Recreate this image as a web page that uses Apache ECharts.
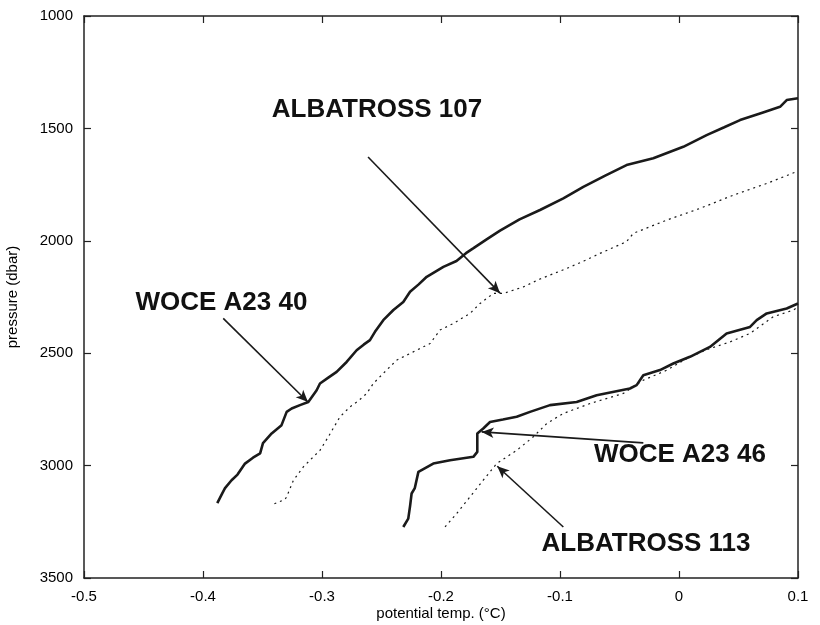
<!DOCTYPE html>
<html>
<head>
<meta charset="utf-8">
<script src="https://cdn.jsdelivr.net/npm/echarts@6/dist/echarts.min.js"></script>
<style>
html,body{margin:0;padding:0;background:#fff;}
#chart{width:820px;height:625px;}
</style>
</head>
<body>
<div id="chart"></div>
<script>
// Axis settings
var xMin = -0.5, xMax = 0.1, xStep = 0.1;
var yMin = 1000, yMax = 3500, yStep = 500;
var xAxisName = 'potential temp. (°C)';
var yAxisName = 'pressure (dbar)';

// Series: [potential temperature, pressure]
var woceA23_40 = [
  [-0.388,3167],[-0.3835,3120],[-0.3815,3100],[-0.376,3065],[-0.371,3040],[-0.3647,2991],[-0.358,2965],[-0.352,2946],
  [-0.3496,2900],[-0.3423,2857],[-0.334,2820],[-0.3297,2761],[-0.3255,2746],[-0.318,2730],[-0.3115,2717],
  [-0.3045,2665],[-0.3017,2635],[-0.295,2610],[-0.2877,2583],[-0.2793,2539],[-0.2709,2487],[-0.2650,2462],
  [-0.2597,2442],[-0.2555,2405],[-0.2485,2353],[-0.2400,2308],[-0.2317,2272],[-0.2260,2227],[-0.2190,2195],
  [-0.2120,2160],[-0.1980,2116],[-0.1870,2090],[-0.1790,2055],[-0.1730,2034],[-0.1620,1995],[-0.1504,1955],
  [-0.1340,1905],[-0.1168,1863],[-0.0972,1811],[-0.0804,1760],[-0.0620,1710],[-0.0441,1663],[-0.0216,1633],
  [0.0036,1582],[0.0232,1530],[0.0380,1495],[0.0513,1463],[0.0700,1430],[0.0849,1404],[0.0905,1374],[0.1000,1366]
];
var albatross107 = [
  [-0.3400,3170],[-0.3310,3150],[-0.3297,3139],[-0.3240,3065],[-0.3157,3006],[-0.3080,2965],[-0.3017,2932],
  [-0.2947,2872],[-0.2849,2783],[-0.2765,2739],[-0.2690,2710],[-0.2624,2679],[-0.2569,2635],[-0.2485,2590],
  [-0.2373,2531],[-0.2233,2494],[-0.2092,2457],[-0.2008,2397],[-0.1897,2368],[-0.1756,2323],[-0.1672,2279],
  [-0.1560,2234],[-0.1476,2234],[-0.1308,2205],[-0.1168,2170],[-0.0944,2123],[-0.0800,2090],[-0.0664,2056],
  [-0.0441,2004],[-0.0384,1967],[-0.0104,1908],[0.0176,1856],[0.0456,1797],[0.0737,1745],[0.1000,1690]
];
var woceA23_46 = [
  [-0.2317,3273],[-0.2275,3236],[-0.2260,3180],[-0.2247,3124],[-0.2220,3100],[-0.2190,3028],[-0.2065,2991],
  [-0.1924,2976],[-0.1728,2961],[-0.1695,2939],[-0.1695,2857],[-0.1645,2835],[-0.1588,2806],[-0.1480,2795],
  [-0.1364,2783],[-0.1252,2761],[-0.1084,2731],[-0.0860,2717],[-0.0692,2687],[-0.0412,2657],[-0.0356,2642],
  [-0.0300,2598],[-0.0160,2575],[-0.0048,2546],[0.0092,2516],[0.0260,2472],[0.0400,2412],[0.0597,2383],
  [0.0653,2353],[0.0737,2323],[0.0905,2301],[0.1000,2279]
];
var albatross113 = [
  [-0.1966,3273],[-0.1868,3213],[-0.1756,3139],[-0.1645,3065],[-0.1532,2991],[-0.1364,2932],[-0.1224,2872],
  [-0.1112,2813],[-0.0972,2768],[-0.0748,2724],[-0.0468,2679],[-0.0300,2620],[-0.0104,2576],[0.0092,2516],
  [0.0260,2479],[0.0428,2450],[0.0597,2412],[0.0792,2338],[0.0961,2308],[0.1000,2295]
];

// Annotations
var annoText = ['ALBATROSS 107', 'WOCE A23 40', 'WOCE A23 46', 'ALBATROSS 113'];
var annoTextAt = [[-0.2538,1418],[-0.3845,2275],[0.0008,2954],[-0.0277,3346]];
var annoArrowFrom = [[-0.2613,1627],[-0.3830,2345],[-0.0300,2899],[-0.0972,3273]];
var annoArrowTo = [[-0.1504,2233],[-0.3118,2717],[-0.1658,2850],[-0.1527,3003]];

var fontFam = '"Liberation Sans", Arial, Helvetica, sans-serif';

function fmtX(v){ if (Math.abs(v) < 1e-9) return '0'; return (Math.round(v*10)/10).toFixed(1); }
function fmtY(v){ return String(Math.round(v)); }

var markLineData = annoArrowFrom.map(function(f, i){
  return [{coord: f}, {coord: annoArrowTo[i]}];
});
var markPointData = annoText.map(function(t, i){
  return {coord: annoTextAt[i], name: t, value: t};
});

var axisLineStyle = {color: '#222', width: 1.5};
var baseX = {
  type: 'value', min: xMin, max: xMax, interval: xStep,
  axisLine: {show: true, onZero: false, lineStyle: axisLineStyle},
  axisTick: {show: true, inside: true, length: 7, lineStyle: {color: '#222', width: 1.2}},
  splitLine: {show: false}
};
var baseY = {
  type: 'value', min: yMin, max: yMax, interval: yStep, inverse: true,
  axisLine: {show: true, onZero: false, lineStyle: axisLineStyle},
  axisTick: {show: true, inside: true, length: 7, lineStyle: {color: '#222', width: 1.2}},
  splitLine: {show: false}
};

var chart = echarts.init(document.getElementById('chart'), null, {renderer: 'canvas'});
chart.setOption({
  animation: false,
  backgroundColor: '#fff',
  grid: {left: 84, right: 22, top: 16, bottom: 47, containLabel: false, outerBoundsMode: 'none'},
  xAxis: [
    Object.assign({}, baseX, {
      position: 'bottom',
      name: xAxisName, nameLocation: 'middle', nameGap: 28, nameMoveOverlap: false,
      nameTextStyle: {fontFamily: fontFam, fontSize: 15, color: '#000'},
      axisLabel: {show: true, margin: 11, formatter: fmtX, fontFamily: fontFam, fontSize: 15, color: '#000'}
    }),
    Object.assign({}, baseX, {position: 'top', axisLabel: {show: false}})
  ],
  yAxis: [
    Object.assign({}, baseY, {
      position: 'left',
      name: yAxisName, nameLocation: 'middle', nameGap: 64, nameRotate: 90, nameMoveOverlap: false,
      nameTextStyle: {fontFamily: fontFam, fontSize: 15, color: '#000'},
      axisLabel: {show: true, margin: 11, formatter: fmtY, fontFamily: fontFam, fontSize: 15, color: '#000'}
    }),
    Object.assign({}, baseY, {position: 'right', axisLabel: {show: false}})
  ],
  series: [
    {
      name: 'WOCE A23 40', type: 'line', data: woceA23_40, showSymbol: false, symbol: 'none',
      lineStyle: {color: '#1a1a1a', width: 2.6}, z: 3,
      markLine: {
        silent: true, symbol: ['none', 'arrow'], symbolSize: [8, 12],
        lineStyle: {color: '#1a1a1a', width: 1.6, type: 'solid'},
        label: {show: false},
        data: markLineData
      },
      markPoint: {
        silent: true, symbol: 'circle', symbolSize: 0,
        label: {show: true, position: 'inside', formatter: function(p){ return p.name; },
          fontFamily: fontFam, fontWeight: 'bold', fontSize: 26, color: '#111'},
        data: markPointData
      }
    },
    {
      name: 'ALBATROSS 107', type: 'line', data: albatross107, showSymbol: false, symbol: 'none',
      lineStyle: {color: '#1a1a1a', width: 1.2, type: [2, 4]}, z: 2
    },
    {
      name: 'WOCE A23 46', type: 'line', data: woceA23_46, showSymbol: false, symbol: 'none',
      lineStyle: {color: '#1a1a1a', width: 2.6}, z: 3
    },
    {
      name: 'ALBATROSS 113', type: 'line', data: albatross113, showSymbol: false, symbol: 'none',
      lineStyle: {color: '#1a1a1a', width: 1.2, type: [2, 4]}, z: 2
    }
  ]
});
</script>
</body>
</html>
